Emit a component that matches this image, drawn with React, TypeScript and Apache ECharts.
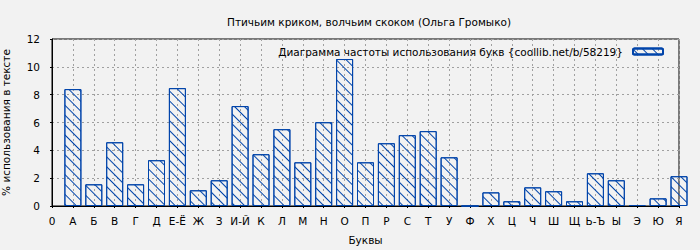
import React, { useEffect, useRef } from "react";
import * as echarts from "echarts";

const title = "Птичьим криком, волчьим скоком (Ольга Громыко)";
const legendName = "Диаграмма частоты использования букв {coollib.net/b/58219}";
const tickLabels = ["0", "А", "Б", "В", "Г", "Д", "Е-Ё", "Ж", "З", "И-Й", "К", "Л", "М", "Н", "О", "П", "Р", "С", "Т", "У", "Ф", "Х", "Ц", "Ч", "Ш", "Щ", "Ь-Ъ", "Ы", "Э", "Ю", "Я"];
const letters = ["А", "Б", "В", "Г", "Д", "Е-Ё", "Ж", "З", "И-Й", "К", "Л", "М", "Н", "О", "П", "Р", "С", "Т", "У", "Ф", "Х", "Ц", "Ч", "Ш", "Щ", "Ь-Ъ", "Ы", "Э", "Ю", "Я"];
const values = [8.40, 1.56, 4.58, 1.56, 3.29, 8.47, 1.13, 1.85, 7.18, 3.72, 5.52, 3.14, 6.02, 10.56, 3.14, 4.51, 5.09, 5.38, 3.50, 0, 0.98, 0.34, 1.34, 1.06, 0.34, 2.35, 1.85, 0.07, 0.55, 2.14];
const yTicks = [0, 2, 4, 6, 8, 10, 12];

const FONT = "DejaVu Sans";
const FS = 10.5;
const BLUE = "#0044aa";

export default function App() {
  const ref = useRef<HTMLDivElement>(null);
  useEffect(() => {
    if (!ref.current) return;
    const chart = echarts.init(ref.current, null, { renderer: "svg" });
    const data = letters.map((l, i) => [tickLabels.indexOf(l), values[i]]);
    chart.setOption({
      animation: false,
      backgroundColor: "#f2f2f2",
      textStyle: { fontFamily: FONT, color: "#000" },
      title: {
        text: title,
        left: 364,
        textAlign: "center",
        top: 11,
        textStyle: { fontFamily: FONT, fontSize: FS, fontWeight: "normal", color: "#000" },
      },
      legend: {
        right: 31,
        top: 41,
        itemWidth: 30,
        itemHeight: 6,
        itemGap: 10,
        align: "right",
        textStyle: { fontFamily: FONT, fontSize: FS, color: "#000", padding: [0, 5, 0, 0] },
        data: [legendName],
      },
      grid: {
        left: 52,
        right: 21,
        top: 39,
        bottom: 44,
        containLabel: false,
        outerBoundsMode: "none",
        show: true,
        borderColor: "#000",
        borderWidth: 1,
        backgroundColor: "transparent",
      },
      xAxis: {
        type: "value",
        min: 0,
        max: tickLabels.length - 1,
        interval: 1,
        name: "Буквы",
        nameLocation: "middle",
        nameGap: 28,
        nameTextStyle: { fontFamily: FONT, fontSize: FS, color: "#000" },
        axisLine: { show: true, lineStyle: { color: "#000", width: 1 } },
        axisTick: { show: true, length: 2, lineStyle: { color: "#000" } },
        axisLabel: {
          fontFamily: FONT,
          fontSize: FS,
          color: "#000",
          margin: 9,
          showMinLabel: true,
          showMaxLabel: true,
          formatter: (v: number) => tickLabels[Math.round(v)] ?? "",
        },
        splitLine: { show: true, lineStyle: { color: "#a0a0a0", type: [2, 3], width: 1 } },
      },
      yAxis: {
        type: "value",
        min: 0,
        max: 12,
        interval: 2,
        name: "% использования в тексте",
        nameLocation: "middle",
        nameGap: 41,
        nameTextStyle: { fontFamily: FONT, fontSize: FS, color: "#000" },
        axisLine: { show: true, lineStyle: { color: "#000", width: 1 } },
        axisTick: { show: true, length: 2, lineStyle: { color: "#000" } },
        axisLabel: {
          fontFamily: FONT,
          fontSize: FS,
          color: "#000",
          margin: 12,
          formatter: (v: number) => (yTicks.includes(v) ? String(v) : ""),
        },
        splitLine: { show: true, lineStyle: { color: "#a0a0a0", type: [2, 3], width: 1 } },
      },
      series: [
        {
          type: "bar",
          name: legendName,
          data,
          barWidth: 17,
          clip: true,
          itemStyle: {
            color: "rgba(255,255,255,0)",
            borderColor: BLUE,
            borderWidth: 1,
            decal: {
              symbol: "rect",
              symbolSize: 1,
              color: BLUE,
              backgroundColor: "rgba(0,0,0,0)",
              dashArrayX: [1, 0],
              dashArrayY: [1, 6],
              rotation: Math.PI / 4,
            },
          },
        },
      ],
    });
    return () => chart.dispose();
  }, []);
  return (
    <div
      ref={ref}
      style={{ position: "fixed", left: 0, top: 0, width: 700, height: 250 }}
    />
  );
}
